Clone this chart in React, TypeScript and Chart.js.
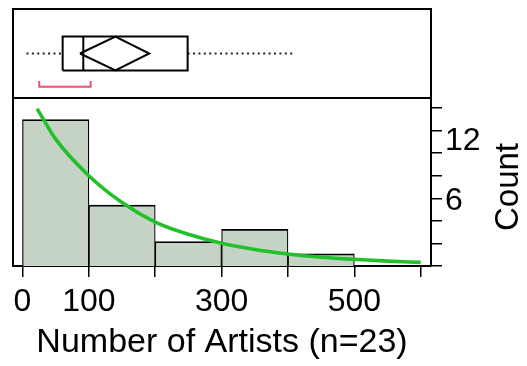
import React, { useEffect, useRef } from "react";
import { Chart, registerables } from "chart.js";

Chart.register(...registerables);

// ---------- data ----------
const binEdges = [0, 100, 200, 300, 400, 500];
const binCounts = [12, 5, 2, 3, 1];

const fitX = [22, 50, 100, 150, 200, 250, 300, 350, 400, 450, 500, 550, 600];
const fitY = [12.9, 10.4, 7.4, 5.2, 3.6, 2.6, 1.86, 1.35, 0.98, 0.72, 0.55, 0.4, 0.3];

const xTickValues = [0, 100, 200, 300, 400, 500, 600];
const xTickLabels = ["0", "100", "", "300", "", "500", ""];

const countTickValues = [0, 2, 4, 6, 8, 10, 12, 14];
const countLabelValues = [6, 12];

// outlier box plot: whisker low, Q1, median, Q3, whisker high
const boxStats = [6, 60.5, 91.6, 248.8, 411];
// means diamond: lower CI, mean, upper CI
const meanDiamond = [86.6, 140, 191];
// shortest half bracket
const shortestHalf = [25.3, 102.7];

// ---------- layout / style constants ----------
const X_MIN = -14.3;
const X_MAX = 615.5;
const BAR_Y_MAX = 13.77;
const TICK_AXIS_MAX = 14.88;
const LABEL_AXIS_MIN = -0.43;
const LABEL_AXIS_MAX = 16.34;
const BOX_H = 0.382;
const BRACKET_LINE = -0.746;
const BRACKET_END = -0.618;

const FONT = "'Liberation Sans', Arial, Helvetica, sans-serif";
const BLACK = "#000000";
const BAR_FILL = "#c5d3c5";
const FIT_GREEN = "#22c02a";
const BRACKET_RED = "#ef5070";

export default function App() {
  const topRef = useRef<HTMLCanvasElement>(null);
  const botRef = useRef<HTMLCanvasElement>(null);

  useEffect(() => {
    const framePlugin = {
      id: "frame",
      afterDatasetsDraw(chart: any) {
        const { ctx, chartArea: a } = chart;
        ctx.save();
        ctx.strokeStyle = BLACK;
        ctx.lineWidth = 2;
        ctx.strokeRect(a.left, a.top, a.right - a.left, a.bottom - a.top);
        ctx.restore();
      },
    };

    const countTitlePlugin = {
      id: "countTitle",
      afterDraw(chart: any) {
        const { ctx, chartArea: a } = chart;
        const s = chart.scales.yCountLabels;
        ctx.save();
        ctx.font = `33px ${FONT}`;
        ctx.fillStyle = BLACK;
        ctx.textAlign = "center";
        ctx.textBaseline = "middle";
        ctx.translate(s.right - 18, (a.top + a.bottom) / 2 + 5);
        ctx.rotate(-Math.PI / 2);
        ctx.fillText("Count", 0, 0);
        ctx.restore();
      },
    };

    const lineDs = (data: { x: number; y: number }[], color: string, width: number, dash: number[] = []) => ({
      type: "line" as const,
      data,
      borderColor: color,
      borderWidth: width,
      borderDash: dash,
      pointRadius: 0,
      fill: false,
      tension: 0,
      showLine: true,
    });

    const [wLo, q1, med, q3, wHi] = boxStats;
    const [mLo, mMid, mHi] = meanDiamond;

    const top = new Chart(topRef.current!, {
      type: "line",
      data: {
        datasets: [
          lineDs(
            [
              { x: q1, y: -BOX_H },
              { x: q3, y: -BOX_H },
              { x: q3, y: BOX_H },
              { x: q1, y: BOX_H },
              { x: q1, y: -BOX_H },
            ],
            BLACK,
            2
          ),
          lineDs(
            [
              { x: med, y: -BOX_H },
              { x: med, y: BOX_H },
            ],
            BLACK,
            2
          ),
          lineDs(
            [
              { x: mLo, y: 0 },
              { x: mMid, y: BOX_H },
              { x: mHi, y: 0 },
              { x: mMid, y: -BOX_H },
              { x: mLo, y: 0 },
            ],
            BLACK,
            2
          ),
          lineDs(
            [
              { x: wLo, y: 0 },
              { x: q1, y: 0 },
            ],
            "#222222",
            2,
            [2, 3.4]
          ),
          lineDs(
            [
              { x: q3, y: 0 },
              { x: wHi, y: 0 },
            ],
            "#222222",
            2,
            [2, 3.4]
          ),
          lineDs(
            [
              { x: shortestHalf[0], y: BRACKET_END },
              { x: shortestHalf[0], y: BRACKET_LINE },
              { x: shortestHalf[1], y: BRACKET_LINE },
              { x: shortestHalf[1], y: BRACKET_END },
            ],
            BRACKET_RED,
            2
          ),
        ],
      },
      options: {
        animation: false,
        responsive: false,
        devicePixelRatio: 1,
        layout: { padding: { left: 13, top: 9, right: 96, bottom: 268 } },
        plugins: { legend: { display: false }, tooltip: { enabled: false } },
        scales: {
          x: { type: "linear", display: false, min: X_MIN, max: X_MAX },
          y: { type: "linear", display: false, min: -1, max: 1 },
        },
      },
      plugins: [framePlugin],
    } as any);

    const barData = binCounts.map((c, i) => ({ x: (binEdges[i] + binEdges[i + 1]) / 2, y: c }));
    const fitData = fitX.map((x, i) => ({ x, y: fitY[i] }));

    const bot = new Chart(botRef.current!, {
      type: "bar",
      data: {
        datasets: [
          {
            type: "line",
            data: fitData,
            borderColor: FIT_GREEN,
            borderWidth: 3.6,
            pointRadius: 0,
            fill: false,
            cubicInterpolationMode: "monotone",
            order: 0,
            yAxisID: "y",
          },
          {
            type: "bar",
            data: barData,
            backgroundColor: BAR_FILL,
            borderColor: BLACK,
            borderWidth: { left: 1.2, right: 1.2, top: 1.8, bottom: 0 },
            borderSkipped: "start",
            barPercentage: 1,
            categoryPercentage: 1,
            order: 1,
            yAxisID: "y",
          },
        ],
      },
      options: {
        animation: false,
        responsive: false,
        devicePixelRatio: 1,
        layout: { padding: { left: 13, top: 98, right: 0, bottom: 0 } },
        plugins: { legend: { display: false }, tooltip: { enabled: false } },
        scales: {
          x: {
            type: "linear",
            position: "bottom",
            min: X_MIN,
            max: X_MAX,
            offset: false,
            afterBuildTicks: (s: any) => {
              s.ticks = xTickValues.map((v) => ({ value: v }));
            },
            afterFit: (s: any) => {
              s.height = 100;
            },
            ticks: {
              autoSkip: false,
              maxRotation: 0,
              minRotation: 0,
              padding: 6,
              color: BLACK,
              font: { family: FONT, size: 32 },
              callback: (_v: any, i: number) => xTickLabels[i],
            },
            grid: {
              display: true,
              drawOnChartArea: false,
              drawTicks: true,
              tickLength: 11,
              color: BLACK,
              lineWidth: 1.5,
              offset: false,
            },
            border: { display: true, color: BLACK, width: 2 },
            title: {
              display: true,
              text: "Number of Artists (n=23)",
              color: BLACK,
              font: { family: FONT, size: 34 },
              padding: { top: 0, bottom: 3 },
            },
          },
          y: {
            type: "linear",
            position: "left",
            min: 0,
            max: BAR_Y_MAX,
            ticks: { display: false },
            grid: { display: false, drawTicks: false, tickLength: 0 },
            border: { display: true, color: BLACK, width: 2 },
            afterFit: (s: any) => {
              s.width = 0;
            },
          },
          yCount: {
            type: "linear",
            position: "right",
            weight: 0,
            min: 0,
            max: TICK_AXIS_MAX,
            afterBuildTicks: (s: any) => {
              s.ticks = countTickValues.map((v) => ({ value: v }));
            },
            ticks: { display: false },
            grid: {
              display: true,
              drawOnChartArea: false,
              drawTicks: true,
              tickLength: 11,
              color: BLACK,
              lineWidth: 1.5,
            },
            border: { display: true, color: BLACK, width: 2 },
            afterFit: (s: any) => {
              s.width = 11;
            },
          },
          yCountLabels: {
            type: "linear",
            position: "right",
            weight: 1,
            min: LABEL_AXIS_MIN,
            max: LABEL_AXIS_MAX,
            afterBuildTicks: (s: any) => {
              s.ticks = countLabelValues.map((v) => ({ value: v }));
            },
            ticks: {
              display: true,
              padding: 3,
              color: BLACK,
              font: { family: FONT, size: 32 },
              callback: (v: any) => String(v),
            },
            grid: { display: false, drawTicks: false, tickLength: 0 },
            border: { display: false },
            afterFit: (s: any) => {
              s.width = 85;
            },
          },
        },
      },
      plugins: [countTitlePlugin],
    } as any);

    return () => {
      top.destroy();
      bot.destroy();
    };
  }, []);

  return (
    <div style={{ position: "fixed", left: 0, top: 0, width: 527, height: 366, background: "#ffffff" }}>
      <canvas ref={botRef} width={527} height={366} style={{ position: "absolute", left: 0, top: 0 }} />
      <canvas ref={topRef} width={527} height={366} style={{ position: "absolute", left: 0, top: 0 }} />
    </div>
  );
}
